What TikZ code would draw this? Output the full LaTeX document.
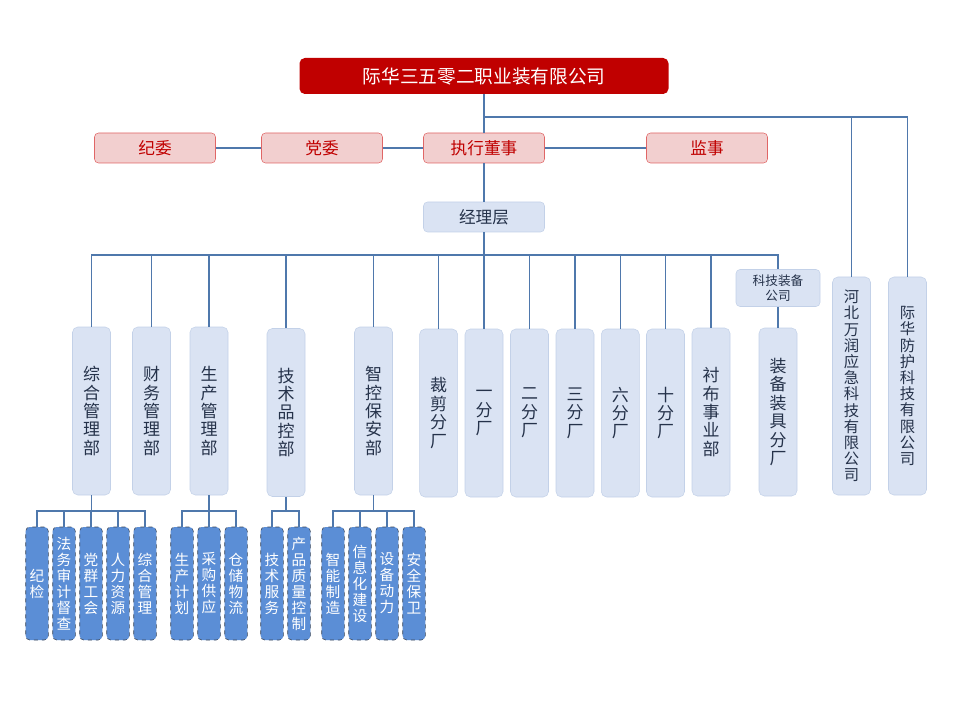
\documentclass[tikz,border=0pt]{standalone}
\usepackage{fontspec}
\setmainfont{Noto Sans CJK SC}
\usepackage{tikz}
\usepackage{xcolor}
\definecolor{hqred}{HTML}{C00000}
\definecolor{boardfill}{HTML}{F2CFCF}
\definecolor{boarddraw}{HTML}{E06666}
\definecolor{deptfill}{HTML}{DAE3F3}
\definecolor{deptdraw}{HTML}{C3D1E8}
\definecolor{depttext}{HTML}{25324A}
\definecolor{subfill}{HTML}{5B8ED6}
\definecolor{subdraw}{HTML}{3C4656}
\definecolor{wire}{HTML}{4F78AC}

\begin{document}
\begin{tikzpicture}[x=0.75pt,y=-0.75pt,
    wires/.style={draw=wire,line width=0.8pt},
    hq/.style={fill=hqred,rounded corners=4pt,text=white,minimum width=276.75pt,minimum height=27pt,inner sep=0pt,font=\fontsize{14}{16}\selectfont},
    board/.style={fill=boardfill,draw=boarddraw,rounded corners=3pt,text=hqred,minimum width=90.75pt,minimum height=22.5pt,inner sep=0pt,font=\fontsize{12.5}{14}\selectfont},
    mgr/.style={fill=deptfill,draw=deptdraw,rounded corners=3pt,text=depttext,minimum width=90.75pt,minimum height=22.5pt,inner sep=0pt,font=\fontsize{12.5}{14}\selectfont},
    dept/.style={fill=deptfill,draw=deptdraw,rounded corners=4pt,text=depttext,minimum width=28.5pt,minimum height=126pt,inner sep=0pt,align=center,font=\fontsize{12.75}{13.8}\selectfont},
    corp/.style={dept,minimum height=163.5pt,font=\fontsize{11.5}{12.15}\selectfont},
    subunit/.style={fill=subfill,draw=subdraw,dashed,rounded corners=3pt,text=white,minimum width=16.9pt,minimum height=84.75pt,inner sep=0pt,align=center,font=\fontsize{11}{12}\selectfont}]
    \useasboundingbox (0,0) rectangle (960,720);

    \node[hq] (hq) at (484,76) {际华三五零二职业装有限公司};
    \node[board] (jiwei) at (155,148) {纪委};
    \node[board] (dangwei) at (322,148) {党委};
    \node[board] (dongshi) at (484,148) {执行董事};
    \node[board] (jianshi) at (707,148) {监事};
    \node[mgr] (jingli) at (484,217) {经理层};

    \node[dept] (zonghe) at (91.5,411) {综\\合\\管\\理\\部};
    \node[dept] (caiwu) at (151.5,411) {财\\务\\管\\理\\部};
    \node[dept] (shengchan) at (209,411) {生\\产\\管\\理\\部};
    \node[dept] (jishu) at (286,412.5) {技\\术\\品\\控\\部};
    \node[dept] (zhikong) at (373.5,411) {智\\控\\保\\安\\部};
    \node[dept] (caijian) at (438.6,413) {裁\\剪\\分\\厂};
    \node[dept] (yifen) at (484,413) {一\\分\\厂};
    \node[dept] (erfen) at (529.5,413) {二\\分\\厂};
    \node[dept] (sanfen) at (575,413) {三\\分\\厂};
    \node[dept] (liufen) at (620.3,413) {六\\分\\厂};
    \node[dept] (shifen) at (665.5,413) {十\\分\\厂};
    \node[dept] (chenbu) at (711,412) {衬\\布\\事\\业\\部};
    \node[mgr,minimum width=63pt,minimum height=27.75pt,align=center,font=\fontsize{9.5}{11.5}\selectfont] (keji) at (778,288) {科技装备\\公司};
    \node[dept] (zhuangbei) at (778,412) {装\\备\\装\\具\\分\\厂};
    \node[corp] (hebei) at (851.5,386) {河\\北\\万\\润\\应\\急\\科\\技\\有\\限\\公\\司};
    \node[corp] (fanghu) at (907.5,386) {际\\华\\防\\护\\科\\技\\有\\限\\公\\司};

    \node[subunit] (jijian) at (37,583.5) {纪\\检};
    \node[subunit] (fawu) at (64,583.5) {法\\务\\审\\计\\督\\查};
    \node[subunit] (dangqun) at (91,583.5) {党\\群\\工\\会};
    \node[subunit] (renli) at (118,583.5) {人\\力\\资\\源};
    \node[subunit] (zongguan) at (145,583.5) {综\\合\\管\\理};
    \node[subunit] (jihua) at (182,583.5) {生\\产\\计\\划};
    \node[subunit] (caigou) at (209,583.5) {采\\购\\供\\应};
    \node[subunit] (cangchu) at (236,583.5) {仓\\储\\物\\流};
    \node[subunit] (fuwu) at (272,583.5) {技\\术\\服\\务};
    \node[subunit] (zhiliang) at (299,583.5) {产\\品\\质\\量\\控\\制};
    \node[subunit] (zhizao) at (333,583.5) {智\\能\\制\\造};
    \node[subunit] (xinxi) at (360,583.5) {信\\息\\化\\建\\设};
    \node[subunit] (dongli) at (387,583.5) {设\\备\\动\\力};
    \node[subunit] (baowei) at (414,583.5) {安\\全\\保\\卫};

    \coordinate (hqbus) at (484,117);
    \coordinate (mgrbus) at (484,255);
    \coordinate (zhbus) at (91.5,511);
    \coordinate (scbus) at (209,511);
    \coordinate (jsbus) at (286,511);
    \coordinate (zkbus) at (373.5,511);

    \draw[wires] (hq.south) -- (dongshi.north);
    \draw[wires] (hqbus) -| (hebei.north);
    \draw[wires] (hqbus) -| (fanghu.north);
    \draw[wires] (jiwei) -- (dangwei);
    \draw[wires] (dangwei) -- (dongshi);
    \draw[wires] (dongshi) -- (jianshi);
    \draw[wires] (dongshi.south) -- (jingli.north);
    \draw[wires] (jingli.south) -- (mgrbus);
    \draw[wires] (mgrbus) -| (zonghe.north);
    \draw[wires] (mgrbus) -| (caiwu.north);
    \draw[wires] (mgrbus) -| (shengchan.north);
    \draw[wires] (mgrbus) -| (jishu.north);
    \draw[wires] (mgrbus) -| (zhikong.north);
    \draw[wires] (mgrbus) -| (caijian.north);
    \draw[wires] (mgrbus) -- (yifen.north);
    \draw[wires] (mgrbus) -| (erfen.north);
    \draw[wires] (mgrbus) -| (sanfen.north);
    \draw[wires] (mgrbus) -| (liufen.north);
    \draw[wires] (mgrbus) -| (shifen.north);
    \draw[wires] (mgrbus) -| (chenbu.north);
    \draw[wires] (mgrbus) -| (keji.north);
    \draw[wires] (keji.south) -- (zhuangbei.north);

    \draw[wires] (zonghe.south) -- (zhbus);
    \draw[wires] (zhbus) -| (jijian.north);
    \draw[wires] (zhbus) -| (fawu.north);
    \draw[wires] (zhbus) -| (dangqun.north);
    \draw[wires] (zhbus) -| (renli.north);
    \draw[wires] (zhbus) -| (zongguan.north);
    \draw[wires] (shengchan.south) -- (scbus);
    \draw[wires] (scbus) -| (jihua.north);
    \draw[wires] (scbus) -| (caigou.north);
    \draw[wires] (scbus) -| (cangchu.north);
    \draw[wires] (jishu.south) -- (jsbus);
    \draw[wires] (jsbus) -| (fuwu.north);
    \draw[wires] (jsbus) -| (zhiliang.north);
    \draw[wires] (zhikong.south) -- (zkbus);
    \draw[wires] (zkbus) -| (zhizao.north);
    \draw[wires] (zkbus) -| (xinxi.north);
    \draw[wires] (zkbus) -| (dongli.north);
    \draw[wires] (zkbus) -| (baowei.north);
\end{tikzpicture}
\end{document}
